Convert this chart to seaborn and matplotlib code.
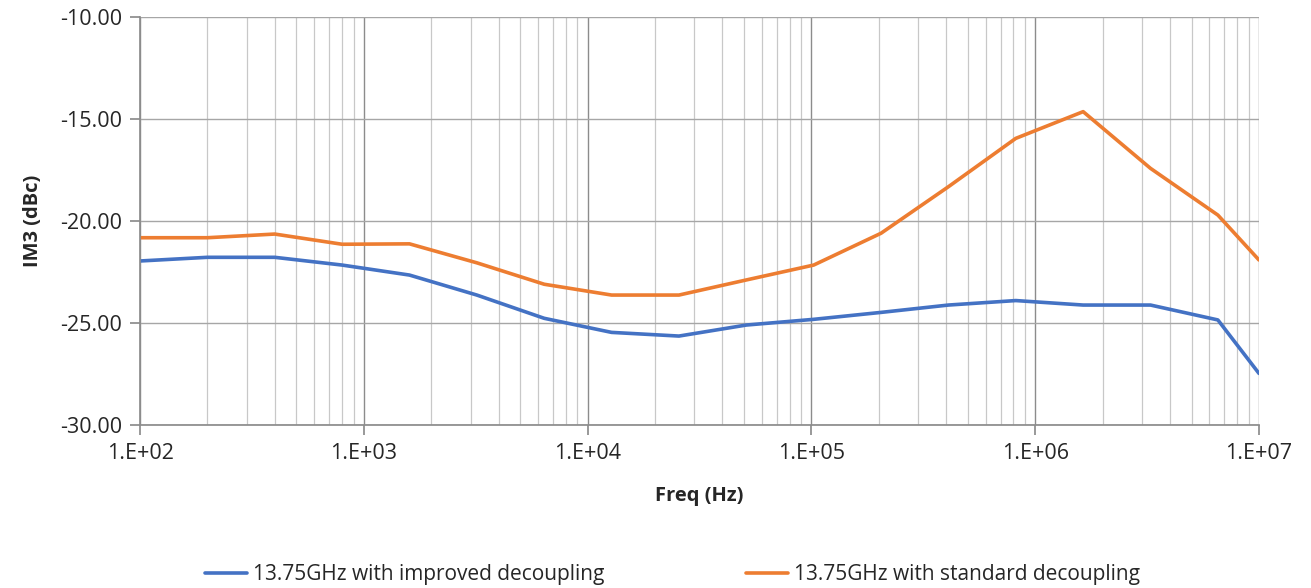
import numpy as np
import pandas as pd
import seaborn as sns
import matplotlib.pyplot as plt
from matplotlib.ticker import FuncFormatter, LogLocator, MultipleLocator

# frequency points (Hz) - doubling steps, plus the end point
freq = [100, 200, 400, 800, 1600, 3200, 6400, 12800, 25600, 51200, 102400,
        204800, 409600, 819200, 1638400, 3276800, 6553600, 10000000]

# IM3 (dBc)
im3_improved = [-21.96, -21.78, -21.78, -22.16, -22.65, -23.63, -24.77, -25.46, -25.64,
                -25.10, -24.82, -24.48, -24.12, -23.90, -24.12, -24.12, -24.85, -27.47]
im3_standard = [-20.82, -20.82, -20.64, -21.14, -21.12, -22.05, -23.10, -23.63, -23.63,
                -22.89, -22.16, -20.60, -18.32, -15.95, -14.64, -17.42, -19.71, -21.91]

label_improved = "13.75GHz with improved decoupling"
label_standard = "13.75GHz with standard decoupling"

df = pd.concat([
    pd.DataFrame({"freq": freq, "im3": im3_improved, "series": label_improved}),
    pd.DataFrame({"freq": freq, "im3": im3_standard, "series": label_standard}),
])

sns.set_theme(style="white")
plt.rcParams['font.family'] = ['Open Sans', 'DejaVu Sans']

fig = plt.figure(figsize=(13.11, 5.88), dpi=100)
ax = fig.add_axes([0.1068, 0.2772, 0.8535, 0.6939])

sns.lineplot(data=df, x="freq", y="im3", hue="series", ax=ax, linewidth=2.6,
             palette={label_improved: "#4472C4", label_standard: "#ED7D31"})

ax.set_xscale("log")
ax.set_xlim(1e2, 1e7)
ax.set_ylim(-30, -10)

ax.xaxis.set_major_locator(LogLocator(base=10, numticks=10))
ax.xaxis.set_minor_locator(LogLocator(base=10, subs=np.arange(2, 10), numticks=100))
ax.xaxis.set_minor_formatter(FuncFormatter(lambda v, p: ""))
ax.xaxis.set_major_formatter(FuncFormatter(lambda v, p: "1.E+%02d" % round(np.log10(v))))
ax.yaxis.set_major_locator(MultipleLocator(5))
ax.yaxis.set_major_formatter(FuncFormatter(lambda v, p: "%.2f" % v))

ax.grid(which="major", axis="x", color="#8c8c8c", linewidth=1.0)
ax.grid(which="minor", axis="x", color="#c8c8c8", linewidth=0.9)
ax.grid(which="major", axis="y", color="#a6a6a6", linewidth=1.0)
ax.set_axisbelow(True)

for s in ["top", "right"]:
    ax.spines[s].set_visible(False)
ax.spines["left"].set_color("#8c8c8c")
ax.spines["bottom"].set_color("#8c8c8c")

ax.tick_params(axis="both", which="major", direction="out", length=7, color="#8c8c8c",
               labelsize=15.5, labelcolor="#262626", pad=6, bottom=True, left=True)
ax.tick_params(axis="x", which="minor", length=0)

ax.set_xlabel("Freq (Hz)", fontsize=14.5, fontweight="bold", color="#262626", labelpad=16)
ax.set_ylabel("IM3 (dBc)", fontsize=14.5, fontweight="bold", color="#262626", labelpad=12)

ax.legend(loc="upper center", bbox_to_anchor=(0.476, -0.295), ncol=2, frameon=False,
          fontsize=15, handlelength=2.0, handletextpad=0.3, columnspacing=6.8, title=None)

fig.savefig("out.png", dpi=100)
